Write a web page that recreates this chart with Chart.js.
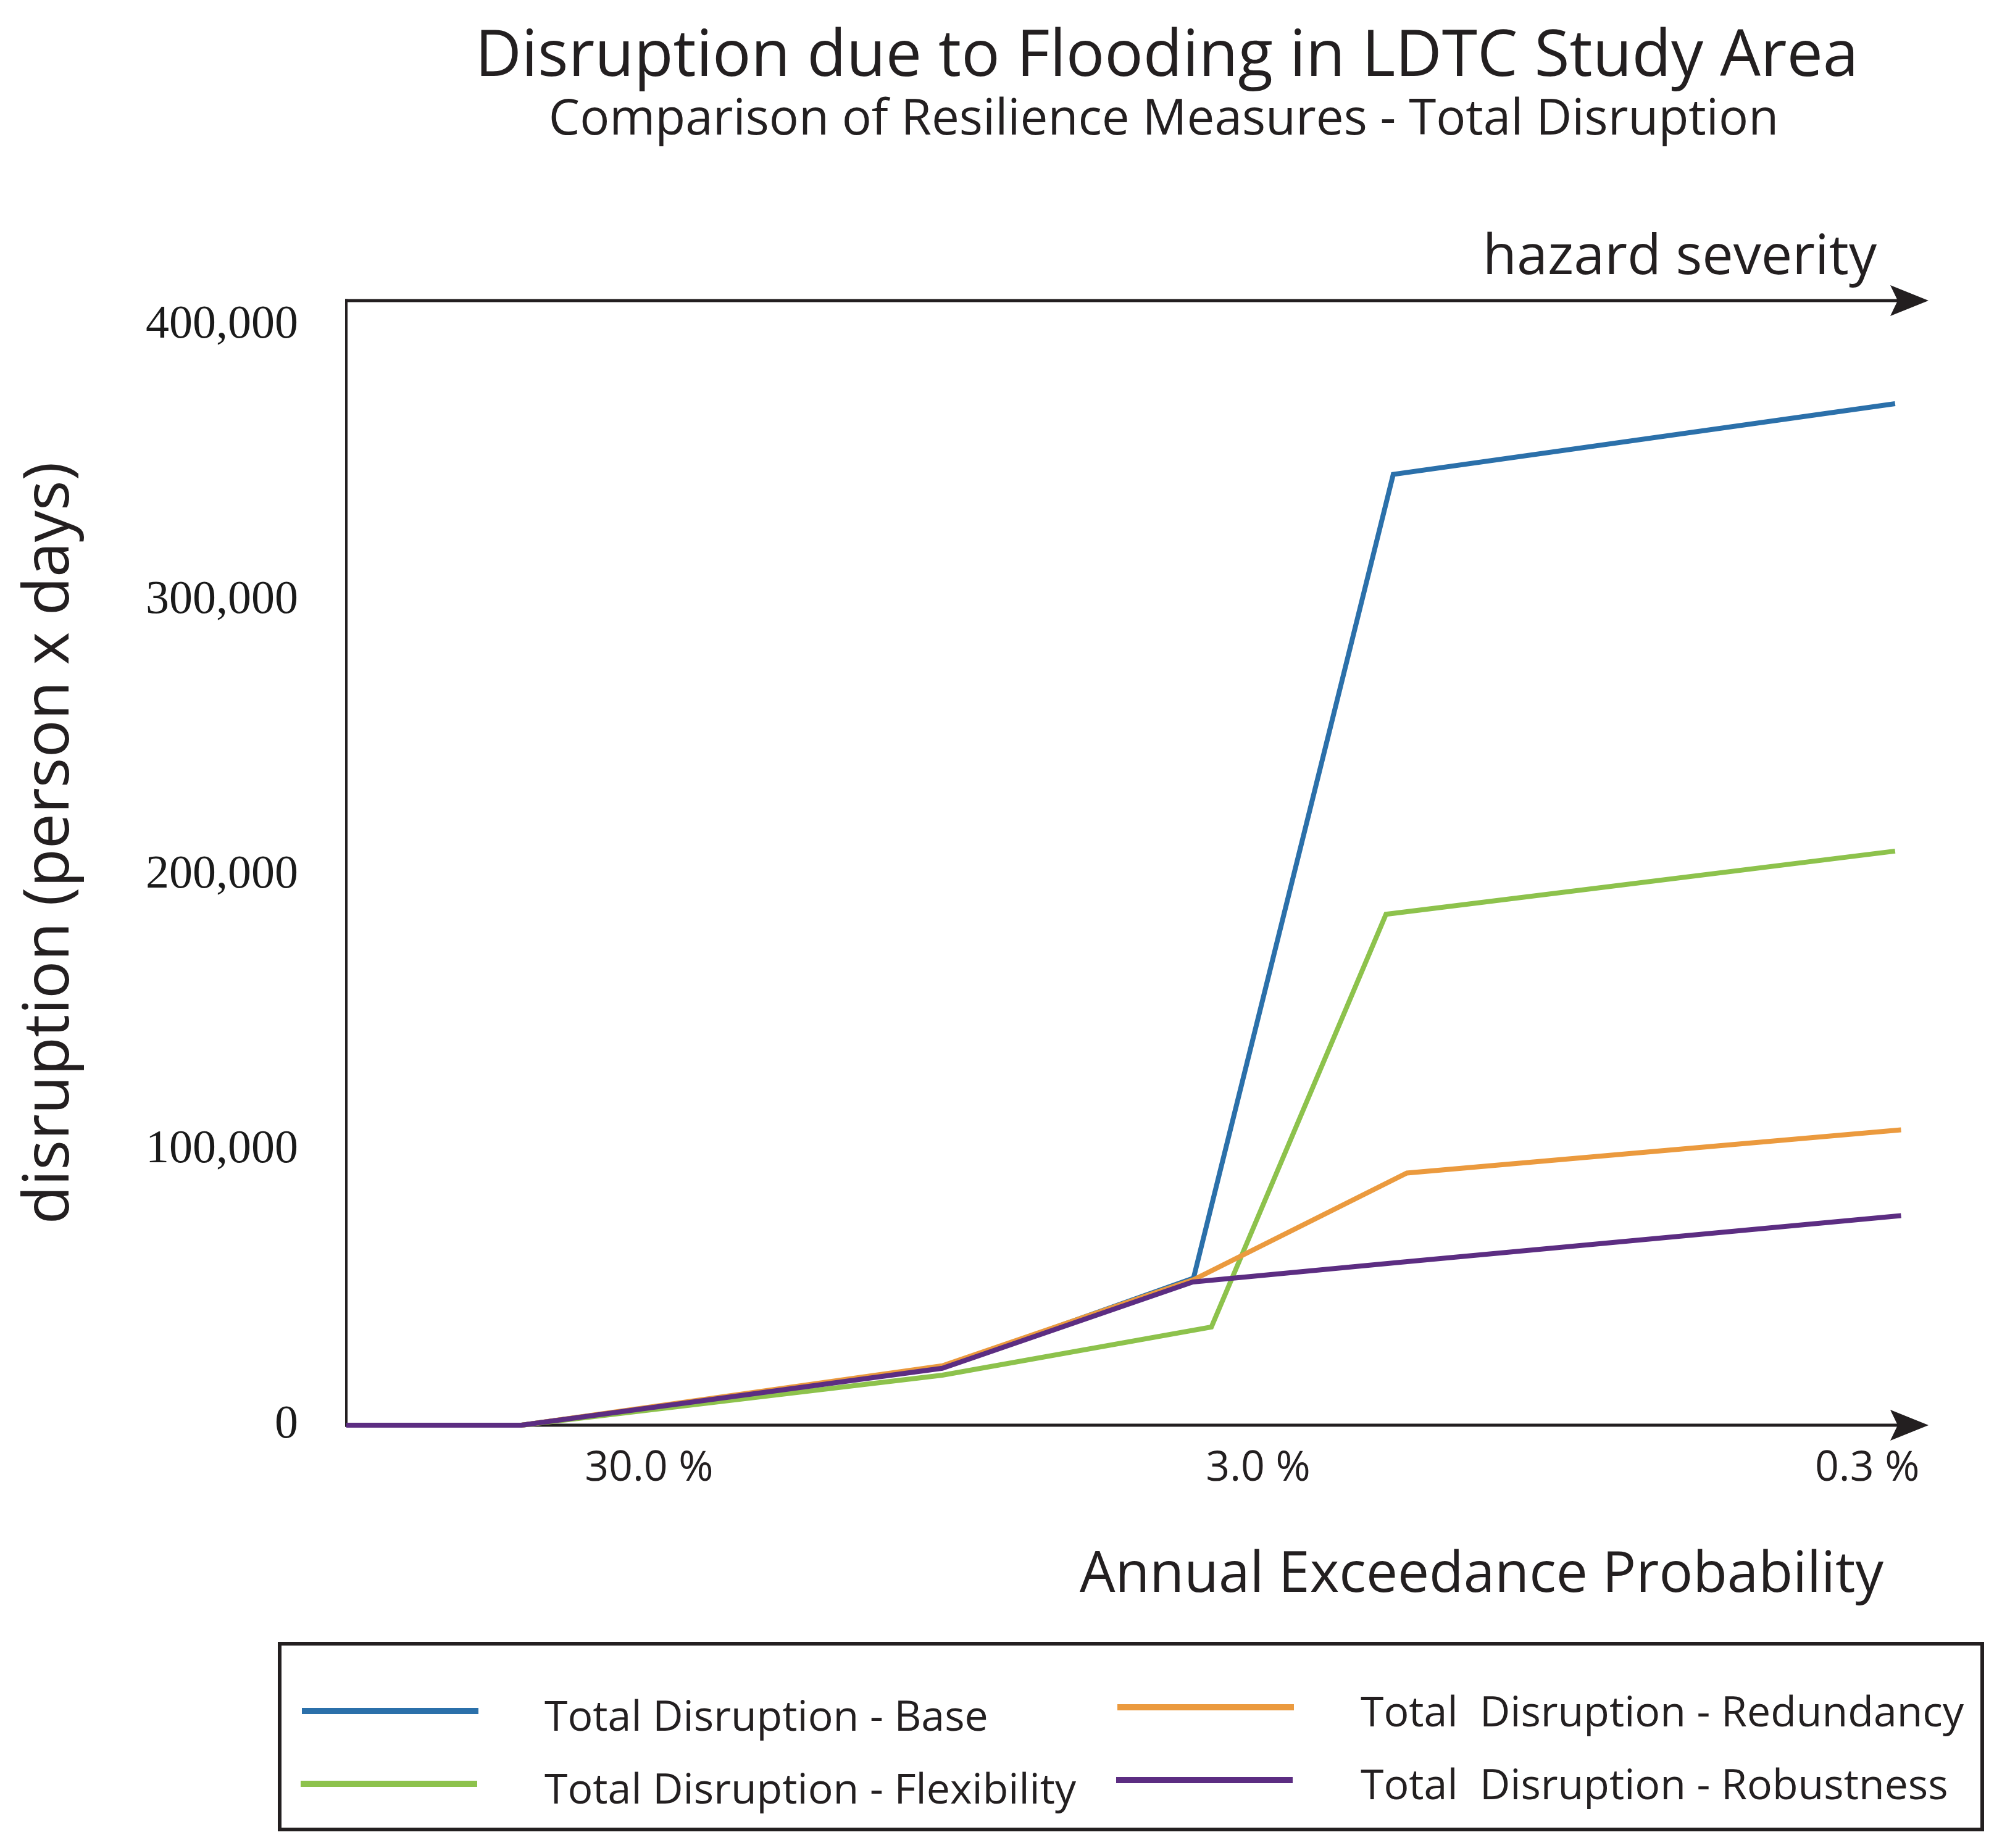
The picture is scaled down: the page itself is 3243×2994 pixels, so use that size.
<!DOCTYPE html>
<html>
<head>
<meta charset="utf-8">
<script src="https://cdn.jsdelivr.net/npm/chart.js@4.4.1/dist/chart.umd.min.js"></script>
<style>
html,body{margin:0;padding:0;background:#ffffff;}
canvas{display:block;}
</style>
</head>
<body>
<canvas id="chart" width="3243" height="2994"></canvas>
<script>
// ---------------- data ----------------
const chartTitle = 'Disruption due to Flooding in LDTC Study Area';
const chartSubtitle = 'Comparison of Resilience Measures - Total Disruption';
const xAxisTitle = 'Annual Exceedance Probability';
const topAxisTitle = 'hazard severity';
const yAxisTitle = 'disruption (person x days)';

const seriesLabels = [
  'Total Disruption - Base',
  'Total Disruption - Flexibility',
  'Total  Disruption - Redundancy',
  'Total  Disruption - Robustness'
];

// annual exceedance probability (%) of each point
const aepBase         = [94.2, 48.6, 9.9, 3.83, 1.80, 0.270];
const aepFlexibility  = [94.2, 48.6, 9.9, 3.58, 1.85, 0.270];
const aepRedundancy   = [94.2, 48.6, 9.9, 3.82, 1.71, 0.264];
const aepRobustness   = [94.2, 48.6, 9.9, 3.84, 1.74, 0.264];

// disruption (person x days)
const disruptionBase        = [0, 0, 21000, 53500, 345800, 371500];
const disruptionFlexibility = [0, 0, 18200, 35700, 185800, 208800];
const disruptionRedundancy  = [0, 0, 21600, 53000,  91700, 107400];
const disruptionRobustness  = [0, 0, 20700, 52100,  59300,  76200];

const xTickValues = [30, 3, 0.3];
const yTickValues = [0, 100000, 200000, 300000, 400000];

// ---------------- styling ----------------
const INK = '#231f20';
const seriesColors = ['#2b70aa', '#8dc24c', '#eb9a3e', '#5c2d82'];

Chart.defaults.font.family = "'Open Sans', 'Noto Sans', sans-serif";
Chart.defaults.color = INK;

const toPoints = (xs, ys) => xs.map((x, i) => ({ x: x, y: ys[i] }));

const datasets = [
  { label: seriesLabels[0], data: toPoints(aepBase, disruptionBase), order: 3 },
  { label: seriesLabels[1], data: toPoints(aepFlexibility, disruptionFlexibility), order: 2 },
  { label: seriesLabels[2], data: toPoints(aepRedundancy, disruptionRedundancy), order: 1 },
  { label: seriesLabels[3], data: toPoints(aepRobustness, disruptionRobustness), order: 0 }
].map((d, i) => Object.assign({
  borderColor: seriesColors[i],
  backgroundColor: seriesColors[i],
  borderWidth: 8,
  pointRadius: 0,
  pointHoverRadius: 0,
  tension: 0,
  fill: false,
  clip: false,
  borderJoinStyle: 'miter',
  borderCapStyle: 'butt'
}, d));

// axis lines with arrow heads
const axisArrows = {
  id: 'axisArrows',
  beforeDatasetsDraw(chart, args, o) {
    const { ctx, chartArea: a } = chart;
    ctx.save();
    ctx.strokeStyle = o.color;
    ctx.fillStyle = o.color;
    // vertical axis
    ctx.lineWidth = o.vWidth;
    ctx.beginPath();
    ctx.moveTo(a.left, a.top - o.hWidth / 2);
    ctx.lineTo(a.left, a.bottom + o.hWidth / 2);
    ctx.stroke();
    // horizontal axes (top and bottom)
    ctx.lineWidth = o.hWidth;
    [a.top, a.bottom].forEach(y => {
      ctx.beginPath();
      ctx.moveTo(a.left - o.vWidth / 2, y);
      ctx.lineTo(o.tipX - o.headLen + o.notch, y);
      ctx.stroke();
      ctx.beginPath();
      ctx.moveTo(o.tipX, y);
      ctx.lineTo(o.tipX - o.headLen, y - o.headHalf);
      ctx.lineTo(o.tipX - o.headLen + o.notch, y);
      ctx.lineTo(o.tipX - o.headLen, y + o.headHalf);
      ctx.closePath();
      ctx.fill();
    });
    ctx.restore();
  }
};

// fine placement of title blocks / axis titles
const placeTitles = {
  id: 'placeTitles',
  afterLayout(chart, args, o) {
    chart.boxes.forEach(b => {
      if (b.options && typeof b.options.text === 'string') {
        const c = o.centers[b.options.text];
        if (c !== undefined) {
          const dx = c - (b.left + b.right) / 2;
          b.left += dx; b.right += dx;
        }
      }
    });
    const x = chart.scales.x, x2 = chart.scales.x2, y = chart.scales.y;
    let d = o.xTitleCenter - (x.left + x.right) / 2; x.left += d; x.right += d;
    d = o.x2TitleRight - x2.right; x2.left += d; x2.right += d;
    d = o.yTitleCenter - (y.top + y.bottom) / 2; y.top += d; y.bottom += d;
  }
};

// boxed two-column legend
const boxLegend = {
  id: 'boxLegend',
  afterDraw(chart, args, o) {
    const ctx = chart.ctx;
    ctx.save();
    ctx.lineWidth = o.borderWidth;
    ctx.strokeStyle = o.borderColor;
    ctx.strokeRect(o.box[0], o.box[1], o.box[2] - o.box[0], o.box[3] - o.box[1]);
    chart.data.datasets.forEach((ds, i) => {
      const it = o.items[i];
      ctx.strokeStyle = ds.borderColor;
      ctx.lineWidth = o.lineWidth;
      ctx.lineCap = 'butt';
      ctx.beginPath();
      ctx.moveTo(it.lx, it.ly);
      ctx.lineTo(it.lx + o.lineLength, it.ly);
      ctx.stroke();
      ctx.fillStyle = o.color;
      ctx.font = o.fontSize + "px 'Open Sans', 'Noto Sans', sans-serif";
      ctx.textAlign = 'left';
      ctx.textBaseline = 'alphabetic';
      ctx.fillText(ds.label, it.tx, it.ty);
    });
    ctx.restore();
  }
};

new Chart(document.getElementById('chart'), {
  type: 'line',
  data: { datasets: datasets },
  plugins: [axisArrows, placeTitles, boxLegend],
  options: {
    responsive: false,
    devicePixelRatio: 1,
    animation: false,
    events: [],
    layout: { padding: { left: 0, right: 153, top: 0, bottom: 385 } },
    plugins: {
      legend: { display: false },
      tooltip: { enabled: false },
      title: {
        display: true, text: chartTitle, color: INK,
        font: { size: 104, weight: 'normal', lineHeight: 1 },
        padding: { top: 41, bottom: 0 }
      },
      subtitle: {
        display: true, text: chartSubtitle, color: INK,
        font: { size: 80, weight: 'normal', lineHeight: 1 },
        padding: { top: 10, bottom: 0 }
      },
      axisArrows: { color: INK, vWidth: 4, hWidth: 5, tipX: 3124, headLen: 62, headHalf: 25, notch: 12 },
      placeTitles: {
        centers: { [chartTitle]: 1890, [chartSubtitle]: 1885 },
        xTitleCenter: 2400, x2TitleRight: 3040, yTitleCenter: 1366
      },
      boxLegend: {
        box: [453, 2663, 3211, 2964], borderWidth: 6, borderColor: INK,
        lineWidth: 10, lineLength: 286, fontSize: 68, color: INK,
        items: [
          { lx: 489, ly: 2772, tx: 882, ty: 2804 },
          { lx: 487, ly: 2890, tx: 882, ty: 2922 },
          { lx: 1810, ly: 2766, tx: 2204, ty: 2797 },
          { lx: 1808, ly: 2884, tx: 2204, ty: 2915 }
        ]
      }
    },
    scales: {
      x: {
        type: 'logarithmic', position: 'bottom', reverse: true,
        min: 0.2576, max: 94.2, bounds: 'data',
        afterBuildTicks: s => { s.ticks = xTickValues.map(v => ({ value: v })); },
        afterFit: s => { s.height = 300; },
        grid: { display: false, drawTicks: false },
        border: { display: false },
        ticks: {
          padding: 30, maxRotation: 0, autoSkip: false, color: INK,
          font: { size: 68 },
          callback: v => Number(v).toFixed(1) + ' %'
        },
        title: {
          display: true, text: xAxisTitle, align: 'center', color: INK,
          font: { size: 91, lineHeight: 1 }, padding: { top: 0, bottom: 10 }
        }
      },
      x2: {
        type: 'linear', position: 'top', min: 0, max: 1,
        grid: { display: false, drawTicks: false },
        border: { display: false },
        ticks: { display: false },
        title: {
          display: true, text: topAxisTitle, align: 'end', color: INK,
          font: { size: 90, lineHeight: 1 }, padding: { top: 138, bottom: 24 }
        }
      },
      y: {
        type: 'linear', position: 'left', min: 0, max: 409000,
        afterBuildTicks: s => { s.ticks = yTickValues.map(v => ({ value: v })); },
        afterFit: s => { s.width = 561; },
        grid: { display: false, drawTicks: false },
        border: { display: false },
        ticks: {
          padding: 78, color: '#1a1a1a',
          font: { family: "'Liberation Serif', 'Times New Roman', serif", size: 76 },
          callback: v => Number(v).toLocaleString('en-US')
        },
        title: {
          display: true, text: yAxisTitle, color: INK,
          font: { size: 102, lineHeight: 1 }, padding: { top: 31, bottom: 0 }
        }
      }
    }
  }
});
</script>
</body>
</html>
